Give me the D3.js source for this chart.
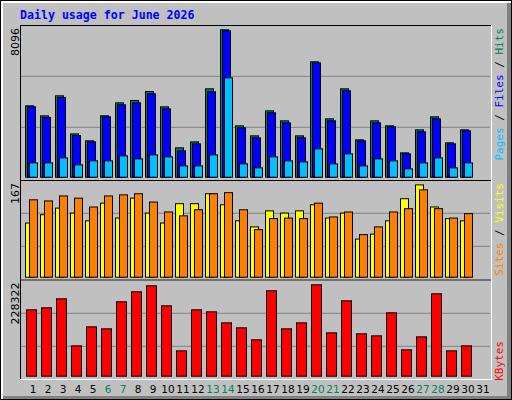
<!DOCTYPE html><html><head><meta charset="utf-8"><script src="https://cdn.jsdelivr.net/npm/d3@7"></script>
<style>body{margin:0;background:#fff}</style></head><body><svg id="c" width="512" height="400"></svg>
<script>
const days = d3.range(1,32);
const weekend = [6,7,13,14,20,21,27,28];
const hits  = [3920,3371,4470,2381,1997,3371,4085,4213,4708,3865,1612,1942,4854,8096,2821,2271,3645,3096,2271,6338,3206,4854,2052,3096,2821,1337,2601,3316,1887,2601,0];
const files = [3865,3279,4378,2290,1942,3316,3975,4085,4580,3755,1447,1832,4689,8042,2711,2161,3535,2986,2161,6283,3096,4745,1997,2986,2766,1282,2491,3206,1832,2546,0];
const pages = [788,788,1062,678,898,898,1172,1007,1227,1117,623,623,1227,5459,733,513,1117,898,843,1557,733,1282,623,1007,898,458,788,1062,513,788,0];
const sites = [98,113,125,116,102,134,107,143,116,98,133,133,151,131,102,91,120,116,120,131,107,116,69,78,102,142,167,127,106,102,0];
const visits= [140,138,147,143,127,147,149,151,136,118,111,122,151,153,122,86,106,107,106,134,109,118,77,91,118,124,158,124,107,115,0];
const kbytes= [165833,170833,193333,75833,123333,118333,185833,210833,225833,175833,63333,165833,160833,133333,120833,90833,213333,118333,133333,228322,108333,188333,105833,100833,158333,65833,98333,205833,63333,75833,0];
const maxLabels = ["8096","167","228322"];

const svg = d3.select("#c");
svg.append("rect").attr("x",0).attr("y",0).attr("width",512).attr("height",400).attr("fill","#000");
svg.append("rect").attr("x",1).attr("y",1).attr("width",510).attr("height",398).attr("fill","#fff");
svg.append("rect").attr("x",3).attr("y",3).attr("width",508).attr("height",396).attr("fill","#808080");
svg.append("rect").attr("x",3).attr("y",3).attr("width",504).attr("height",393).attr("fill","#c0c0c0");

svg.append("text").attr("x",20).attr("y",19).attr("fill","#0000ff")
  .attr("font-family","DejaVu Sans Mono").attr("font-weight","bold").attr("font-size","11.6px")
  .text("Daily usage for June 2026");

const x = d3.scaleLinear().domain([1,31]).range([25,475]);
const panels = [
  {top:25, bot:180, base:176.7, grids:[127.3,76.3], y:d3.scaleLinear().domain([0,8096]).range([176.7,29.3])},
  {top:180, bot:279.5, base:276.7, grids:[246.3,213.3], y:d3.scaleLinear().domain([0,167]).range([276.7,184.4])},
  {top:279.5, bot:379, base:375.7, grids:[346.3,313.3], y:d3.scaleLinear().domain([0,228322]).range([375.7,284.3])}
];
panels.forEach((p,i)=>{
  p.grids.forEach(g=>svg.append("line").attr("x1",21).attr("x2",490).attr("y1",g).attr("y2",g).attr("stroke","#808080"));
  svg.append("line").attr("x1",20).attr("x2",491).attr("y1",p.top+0.5).attr("y2",p.top+0.5).attr("stroke","#000");
  svg.append("line").attr("x1",20.5).attr("x2",20.5).attr("y1",p.top).attr("y2",p.bot).attr("stroke","#000");
  svg.append("line").attr("x1",20).attr("x2",492).attr("y1",p.bot+0.5).attr("y2",p.bot+0.5).attr("stroke","#fff");
  svg.append("line").attr("x1",491.5).attr("x2",491.5).attr("y1",p.top).attr("y2",p.bot+1).attr("stroke","#fff");
  svg.append("text").attr("transform",`translate(19,${p.top+3}) rotate(-90)`).attr("text-anchor","end")
    .attr("font-family","DejaVu Sans").attr("font-size","11px").attr("fill","#000").text(maxLabels[i]);
});

function bars(data, p, dx, w, color){
  svg.append("g").selectAll("rect").data(days.filter((d,i)=>data[i]>0)).join("rect")
    .attr("x",d=>x(d)+dx+0.5).attr("width",w)
    .attr("y",d=>p.y(data[d-1])+0.5).attr("height",d=>p.base-p.y(data[d-1]))
    .attr("fill",color).attr("stroke","#000").attr("stroke-width",1);
}
bars(hits,panels[0],0,8,"#00805c");
bars(files,panels[0],2,8,"#0000ff");
bars(pages,panels[0],4,8,"#00c0ff");
bars(sites,panels[1],0,8,"#ffff00");
bars(visits,panels[1],4,8,"#ff8000");
bars(kbytes,panels[2],1,10,"#ff0000");

svg.append("g").selectAll("text").data(days).join("text")
  .attr("x",d=>x(d)+8).attr("y",393).attr("text-anchor","middle")
  .attr("font-family","DejaVu Sans").attr("font-size","10.5px")
  .attr("fill",d=>weekend.includes(d)?"#00805c":"#000").text(d=>d);

function legend(yEnd, parts){
  const t = svg.append("text").attr("transform",`translate(503,${yEnd}) rotate(-90)`).attr("text-anchor","end")
    .attr("font-family","DejaVu Sans Mono").attr("font-size","11px");
  parts.forEach(([s,c])=>t.append("tspan").attr("fill",c).text(s));
}
legend(28,[["Pages","#00c0ff"],[" / ","#000"],["Files","#0000ff"],[" / ","#000"],["Hits","#00805c"]]);
legend(183,[["Sites","#ff8000"],[" / ","#000"],["Visits","#ffff00"]]);
legend(341,[["KBytes","#ff0000"]]);
</script></body></html>
